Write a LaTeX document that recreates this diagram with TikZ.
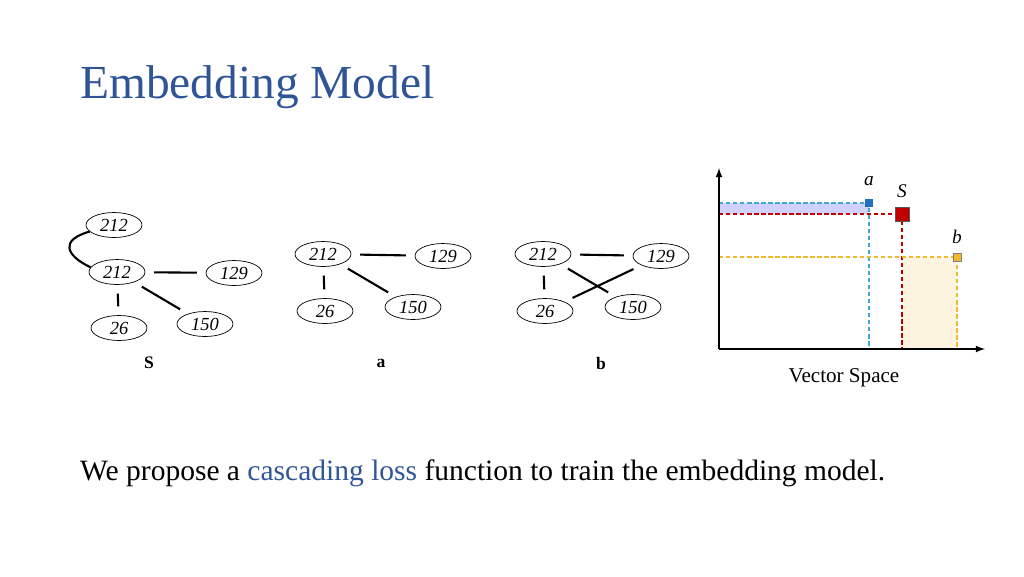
\documentclass[tikz,border=0pt]{standalone}
\usepackage{fontspec}
\setmainfont{Liberation Serif}
\definecolor{titleblue}{HTML}{2F5597}
\definecolor{ptblue}{HTML}{1F6FC0}
\definecolor{ptred}{HTML}{C00000}
\definecolor{ptyellow}{HTML}{F2B82E}
\definecolor{lineblue}{HTML}{3FA7D6}
\tikzset{
	gnode/.style={draw,ellipse,minimum width=1.12cm,minimum height=0.5cm,inner sep=0pt,font=\fontsize{10.5}{11}\selectfont\itshape},
	gedge/.style={line width=1.2pt,shorten >=5pt,shorten <=5pt},
	glabel/.style={font=\bfseries\fontsize{10}{11}\selectfont},
	guide/.style={line width=0.7pt,dash pattern=on 2.5pt off 1.5pt}
}
\usetikzlibrary{shapes.geometric}
\begin{document}
\begin{tikzpicture}[x=0.02cm,y=-0.02cm]
	\useasboundingbox (0,0) rectangle (1024,576);
	
	\node[anchor=west,text=titleblue,font=\fontsize{27}{29}\selectfont] (title) at (74,87) {Embedding Model};
	
	% graph S
	\node[gnode] (s0) at (114,225) {212};
	\node[gnode] (s1) at (117,272) {212};
	\node[gnode] (s2) at (234,273) {129};
	\node[gnode] (s3) at (119,328) {26};
	\node[gnode] (s4) at (205,324) {150};
	\node[glabel] (ls) at (149,363) {S};
	\draw[line width=1.2pt] (s0.195) .. controls (60,240) and (65,255) .. (s1.170);
	\draw[gedge] (s1) -- (s2);
	\draw[gedge] (s1) -- (s3);
	\draw[gedge] (s1) -- (s4);
	
	% graph a
	\node[gnode] (a1) at (323,254) {212};
	\node[gnode] (a2) at (443,256) {129};
	\node[gnode] (a3) at (325,311) {26};
	\node[gnode] (a4) at (413,307) {150};
	\node[glabel] (la) at (381,363) {a};
	\draw[gedge] (a1) -- (a2);
	\draw[gedge] (a1) -- (a3);
	\draw[gedge] (a1) -- (a4);
	
	% graph b
	\node[gnode] (b1) at (543,254) {212};
	\node[gnode] (b2) at (661,256) {129};
	\node[gnode] (b3) at (545,311) {26};
	\node[gnode] (b4) at (633,307) {150};
	\node[glabel] (lb) at (601,363) {b};
	\draw[gedge] (b1) -- (b2);
	\draw[gedge] (b1) -- (b3);
	\draw[gedge] (b1) -- (b4);
	\draw[gedge] (b3) -- (b2);
	
	% vector space
	\coordinate (o) at (719,349);
	\fill[blue!18] (719,203) rectangle (869,214);
	\fill[ptyellow!15] (902,257) rectangle (957,349);
	\draw[guide,lineblue] (719,203) -- (869,203) -- (869,349);
	\draw[guide,ptred] (719,214) -- (902,214) -- (902,349);
	\draw[guide,ptyellow] (719,257) -- (957,257) -- (957,349);
	\draw[-latex,line width=0.8pt] (o) -- (719,168);
	\draw[-latex,line width=0.8pt] (o) -- (985,349);
	\node[fill=ptblue,minimum size=0.16cm,inner sep=0pt] (pa) at (869,203) {};
	\node[fill=ptred,draw=gray!70!black,minimum size=0.28cm,inner sep=0pt] (ps) at (902,214) {};
	\node[fill=ptyellow,draw=gray,minimum size=0.16cm,inner sep=0pt] (pb) at (957,257) {};
	\node[font=\itshape\fontsize{11}{12}\selectfont] (ta) at (869,181) {a};
	\node[font=\itshape\fontsize{11}{12}\selectfont] (tss) at (902,191) {S};
	\node[font=\itshape\fontsize{11}{12}\selectfont] (tb) at (957,237) {b};
	\node[font=\fontsize{12}{13}\selectfont] (vs) at (844,378) {Vector Space};
	
	\node[anchor=west,font=\fontsize{16.8}{19}\selectfont] (claim) at (74,473) {We propose a \textcolor{titleblue}{cascading loss} function to train the embedding model.};
\end{tikzpicture}
\end{document}
